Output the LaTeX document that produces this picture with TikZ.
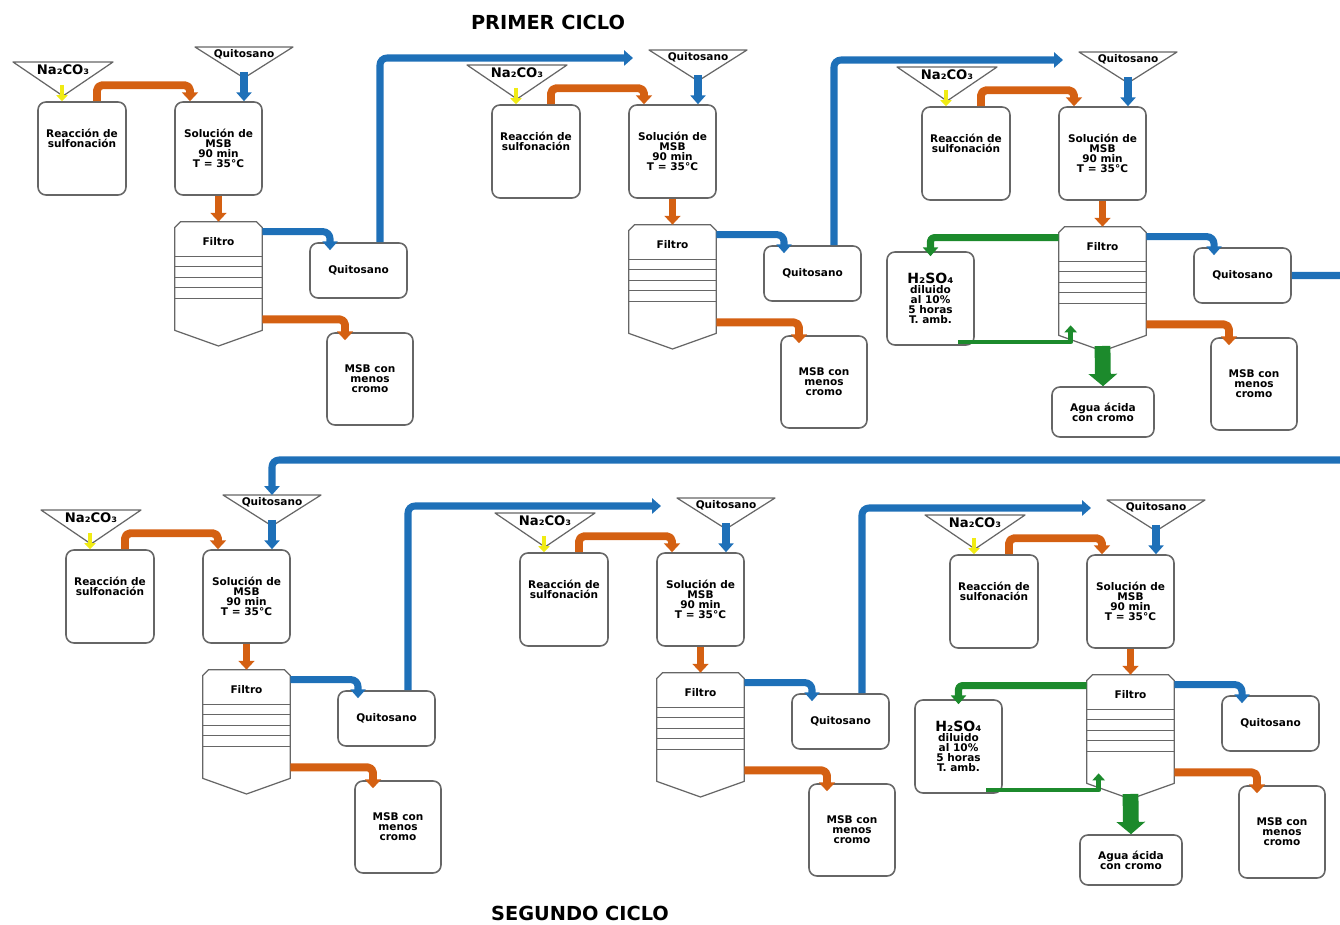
\documentclass[tikz,border=0pt]{standalone}
\usepackage{fontspec}
\setmainfont{DejaVu Sans}
\usetikzlibrary{arrows.meta}

\definecolor{pipeorange}{RGB}{212,96,18}
\definecolor{pipeblue}{RGB}{30,112,184}
\definecolor{pipegreen}{RGB}{28,138,44}
\definecolor{pipeyellow}{RGB}{240,235,20}

\begin{document}
\begin{tikzpicture}[x=0.02cm, y=-0.02cm, line join=round,
    tank/.style={draw=black!60, line width=0.9pt, fill=white, rounded corners=4.5pt,
      align=center, inner sep=1pt, font=\fontsize{6}{5.6}\selectfont\bfseries},
    lbl/.style={align=center, inner sep=0pt, font=\fontsize{6}{5.6}\selectfont\bfseries},
    title/.style={inner sep=0pt, font=\fontsize{11}{12}\selectfont\bfseries},
    outline/.style={draw=black!60, line width=0.7pt},
    orangepipe/.style={draw=pipeorange, line width=4.5pt, rounded corners=3pt,
      -{Triangle[width=9pt,length=5pt]}},
    bluepipe/.style={draw=pipeblue, line width=4pt, rounded corners=4pt,
      -{Triangle[width=8.5pt,length=5pt]}},
    greenpipe/.style={draw=pipegreen, line width=4pt, rounded corners=2pt,
      -{Triangle[width=8.5pt,length=5pt]}},
    greenthin/.style={draw=pipegreen, line width=2.8pt,
      -{Triangle[width=7pt,length=4pt]}},
    greenblock/.style={draw=pipegreen, line width=9pt,
      -{Triangle[width=16pt,length=7pt]}},
    yellowpipe/.style={draw=pipeyellow, line width=2.8pt,
      -{Triangle[width=6.5pt,length=3.5pt]}}]

    % Frame of the page, same proportions as the source
    \useasboundingbox (0,0) rectangle (1340,925);
    \clip (0,0) rectangle (1340,925);

    % Headings
    \node[title] (t1) at (548,22) {PRIMER CICLO};
    \node[title] (t2) at (580,913) {SEGUNDO CICLO};

    % One processing unit per step, three per cycle
    \foreach \m/\ox/\oy in {1/38/102, 2/492/105, 3/922/107, 4/66/550, 5/520/553, 6/950/555}{
      \begin{scope}[shift={(\ox,\oy)}]
        % Na2CO3 hopper
        \draw[outline] (-25,-40) -- (75,-40) -- (25,-6) -- cycle;
        \node[lbl, font=\fontsize{7.5}{8}\selectfont\bfseries] (na\m) at (25,-32) {Na₂CO₃};
        \coordinate (ya\m) at (24,-17);
        % chitosan hopper
        \draw[outline] (157,-55) -- (255,-55) -- (206,-24) -- cycle;
        \node[lbl] (qn\m) at (206,-48) {Quitosano};
        \coordinate (qt\m) at (206,-55);
        \coordinate (yb\m) at (206,-30);
        \coordinate (in\m) at (141,-47);

        % reactor and MSB solution tank
        \node[tank, minimum width=1.76cm, minimum height=1.86cm] (r\m) at (44,46.5) {};
        \node[lbl] (rt\m) at (44,36) {Reacción de\\sulfonación};
        \node[tank, minimum width=1.74cm, minimum height=1.86cm] (s\m) at (180.5,46.5)
          {Solución de\\MSB\\90 min\\T = 35°C};

        % filter column
        \node[minimum width=1.74cm, minimum height=2.16cm, inner sep=0pt] (f\m) at (180.5,174) {};
        \coordinate (fb\m) at (180.5,244);
        \draw[outline, fill=white] (f\m.south west) -- ([yshift=-0.12cm]f\m.north west)
          -- ([xshift=0.12cm]f\m.north west) -- ([xshift=-0.12cm]f\m.north east)
          -- ([yshift=-0.12cm]f\m.north east) -- (f\m.south east) -- (fb\m) -- cycle;
        \foreach \gap in {0.7,0.9,1.12,1.32,1.54}
          \draw[outline] ([yshift=-\gap cm]f\m.north west) -- ([yshift=-\gap cm]f\m.north east);
        \node[lbl] (ft\m) at ([yshift=-0.4cm]f\m.north) {Filtro};

        % products
        \node[tank, minimum width=1.94cm, minimum height=1.1cm] (q\m) at (320.5,168.5) {Quitosano};
        \node[tank, minimum width=1.72cm, minimum height=1.84cm] (p\m) at (332,277)
          {MSB con\\menos\\cromo};

        % flows inside the unit
        \draw[yellowpipe] (ya\m) -- (r\m.north -| ya\m);
        \draw[orangepipe] ([xshift=0.3cm]r\m.north) -- ++(0,-16) -| ([xshift=-0.57cm]s\m.north);
        \draw[bluepipe] (yb\m) -- (s\m.north -| yb\m);
        \draw[orangepipe] (s\m.south) -- (f\m.north);
        \draw[bluepipe] ([yshift=-0.2cm]f\m.north east) -| ([xshift=-0.57cm,yshift=-0.16cm]q\m.north);
        \draw[orangepipe] ([yshift=0.22cm]f\m.south east) -| ([xshift=-0.5cm,yshift=-0.16cm]p\m.north);
      \end{scope}
    }

    % Acid wash of the filter in the last unit of each cycle
    \foreach \m/\ox/\oy in {3/922/107, 6/950/555}{
      \begin{scope}[shift={(\ox,\oy)}]
        \node[tank, minimum width=1.74cm, minimum height=1.86cm] (h\m) at (8.5,191.5)
          {{\fontsize{8}{9}\selectfont H₂SO₄}\\diluido\\al 10\%\\5 horas\\T. amb.};
        \node[tank, minimum width=2.04cm, minimum height=1cm] (a\m) at (181,305)
          {Agua ácida\\con cromo};
        \coordinate (hr\m) at (36,235);
        \draw[greenpipe] ([yshift=-0.22cm]f\m.north west) -| ([yshift=-0.1cm]h\m.north);
        \draw[greenthin] (hr\m) -| ([xshift=0.24cm,yshift=0.2cm]f\m.south west);
        \draw[greenblock] ([yshift=0.1cm]fb\m) -- (a\m.north);
      \end{scope}
    }

    % Recovered chitosan goes to the next unit
    \draw[bluepipe] ([xshift=0.43cm]q1.north) |- (in2);
    \draw[bluepipe] ([xshift=0.43cm]q2.north) |- (in3);
    \draw[bluepipe] ([xshift=0.43cm]q4.north) |- (in5);
    \draw[bluepipe] ([xshift=0.43cm]q5.north) |- (in6);

    % From the first cycle back to the second one (runs past the right edge)
    \coordinate (ret) at (1460,460);
    \draw[bluepipe] (q3.east) -| (ret) -| (qt4);

\end{tikzpicture}
\end{document}
